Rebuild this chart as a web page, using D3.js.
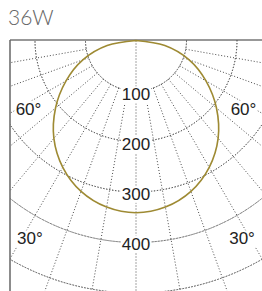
<!DOCTYPE html>
<html>
<head>
<meta charset="utf-8">
<script src="https://cdn.jsdelivr.net/npm/d3@7/dist/d3.min.js"></script>
<style>
  html, body { margin: 0; padding: 0; background: #fff; }
  svg { display: block; }
</style>
</head>
<body>
<script>
// polar intensity data (cd), angle 0 = straight down
const angles = [-90, -80, -70, -60, -50, -40, -30, -20, -10, 0, 10, 20, 30, 40, 50, 60, 70, 80, 90];
const intensity = [0, 58, 112, 160, 208, 253, 290, 318, 335, 341, 335, 318, 290, 253, 208, 160, 112, 58, 0];
const ringValues = [100, 200, 300, 400, 500];
const ringLabels = ["100", "200", "300", "400"];
const angleLabels = [
  { text: "60°", a: -58 }, { text: "60°", a: 58 },
  { text: "30°", a: -28.3 }, { text: "30°", a: 28.3 }
];
const title = "36W";

const width = 262, height = 291;
const cx = 136, cy = 40.5;
const box = { x: 10, y: 40, w: 252, h: 260 };

const r = d3.scaleLinear().domain([0, 100]).range([0, 50.5]);
const rad = d => d * Math.PI / 180;
// polar -> xy, angle from the downward vertical, positive to the right
const px = (a, v) => cx + r(v) * Math.sin(rad(a));
const py = (a, v) => cy + r(v) * Math.cos(rad(a));

const svg = d3.select("body").append("svg")
  .attr("width", width)
  .attr("height", height);

svg.append("text")
  .attr("x", 8)
  .attr("y", 25)
  .attr("font-family", "Lato, 'Open Sans', sans-serif")
  .attr("font-weight", 300)
  .attr("font-size", 21)
  .attr("fill", "#666")
  .text(title);

svg.append("clipPath").attr("id", "clip")
  .append("rect")
  .attr("x", box.x).attr("y", box.y)
  .attr("width", box.w).attr("height", box.h);

const grid = svg.append("g").attr("clip-path", "url(#clip)");

// rings
const arc = d3.arc()
  .startAngle(Math.PI / 2)
  .endAngle(Math.PI * 3 / 2);

grid.selectAll("path.ring")
  .data(ringValues)
  .enter()
  .append("path")
  .attr("class", "ring")
  .attr("transform", `translate(${cx},${cy})`)
  .attr("d", v => arc({ innerRadius: r(v), outerRadius: r(v) }))
  .attr("fill", "none")
  .attr("stroke", "#4a4a4a")
  .attr("stroke-width", 1)
  .attr("stroke-dasharray", "1,2");

// spokes every 10 degrees
const spokes = d3.range(-80, 81, 10);
grid.selectAll("line.spoke")
  .data(spokes)
  .enter()
  .append("line")
  .attr("class", "spoke")
  .attr("x1", a => a === 0 ? cx : px(a, 100))
  .attr("y1", a => a === 0 ? cy : py(a, 100))
  .attr("x2", a => px(a, 800))
  .attr("y2", a => py(a, 800))
  .attr("stroke", "#4a4a4a")
  .attr("stroke-width", 1)
  .attr("stroke-dasharray", "1,2");

// frame
svg.append("line")
  .attr("x1", box.x).attr("y1", box.y)
  .attr("x2", width).attr("y2", box.y)
  .attr("stroke", "#333")
  .attr("stroke-width", 1.2);
svg.append("line")
  .attr("x1", box.x).attr("y1", box.y)
  .attr("x2", box.x).attr("y2", height)
  .attr("stroke", "#666")
  .attr("stroke-width", 1.5);

// intensity curve
const line = d3.lineRadial()
  .angle(d => Math.PI - rad(d[0]))
  .radius(d => r(d[1]))
  .curve(d3.curveCardinal);

svg.append("path")
  .datum(angles.map((a, i) => [a, intensity[i]]))
  .attr("transform", `translate(${cx},${cy})`)
  .attr("d", line)
  .attr("fill", "none")
  .attr("stroke", "#9e8a33")
  .attr("stroke-width", 1.6);

// labels with white background
function addLabel(x, y, t) {
  const g = svg.append("g");
  const txt = g.append("text")
    .attr("x", x).attr("y", y)
    .attr("text-anchor", "middle")
    .attr("dominant-baseline", "central")
    .attr("font-family", "'Liberation Sans', Arial, sans-serif")
    .attr("font-size", 17)
    .attr("fill", "#222")
    .text(t);
  const b = txt.node().getBBox();
  g.insert("rect", "text")
    .attr("x", b.x - 1).attr("y", b.y + 1)
    .attr("width", b.width + 2).attr("height", b.height - 2)
    .attr("fill", "#fff");
}

ringLabels.forEach((t, i) => addLabel(cx, py(0, ringValues[i]) + 1.5 + (3 - i) * 0.8, t));
angleLabels.forEach(d => {
  const v = Math.abs(d.a) > 40 ? 251 : 443;
  addLabel(px(d.a, v), py(d.a, v) + 1.5, d.text);
});
</script>
</body>
</html>
